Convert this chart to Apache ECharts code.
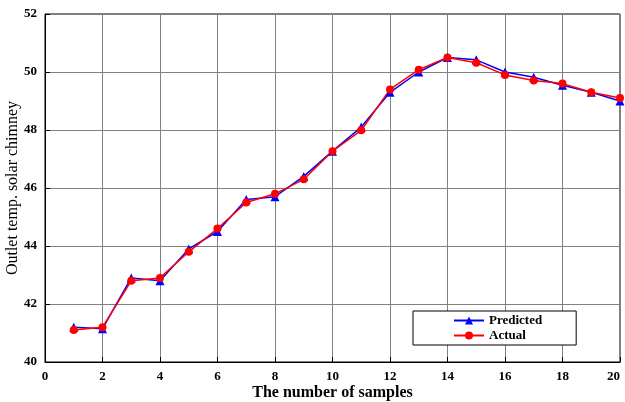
<!DOCTYPE html>
<html><head><meta charset="utf-8">
<script src="https://cdn.jsdelivr.net/npm/echarts@6/dist/echarts.min.js"></script>
<style>html,body{margin:0;padding:0;background:#fff}#c{width:625px;height:402px}</style>
</head><body><div id="c"></div>
<script>
const samples = [1,2,3,4,5,6,7,8,9,10,11,12,13,14,15,16,17,18,19,20];
const predicted = [41.2,41.15,42.9,42.8,43.9,44.5,45.6,45.7,46.4,47.27,48.1,49.3,50.0,50.5,50.42,50.0,49.82,49.54,49.3,49.0];
const actual = [41.1,41.2,42.8,42.9,43.8,44.6,45.5,45.8,46.3,47.27,47.99,49.4,50.08,50.5,50.32,49.9,49.71,49.6,49.3,49.1];
const xTicks = {min:0,max:20,interval:2};
const yTicks = {min:40,max:52,interval:2};

const font = "'Liberation Serif','Times New Roman',serif";
const chart = echarts.init(document.getElementById('c'), null, {renderer:'canvas'});
const axisCommon = {
  axisLine:{show:true,lineStyle:{color:'#000',width:1}},
  axisTick:{show:true,inside:true,length:5,lineStyle:{color:'#000'}},
  splitLine:{show:true,lineStyle:{color:'#808080',width:1}},
  axisLabel:{color:'#000',fontFamily:font,fontWeight:'bold',fontSize:13},
  nameMoveOverlap:false
};
chart.setOption({
  animation:false,
  backgroundColor:'#fff',
  grid:{left:45,right:5,top:14,bottom:40,show:true,borderColor:'#000',borderWidth:1,
        containLabel:false,outerBoundsMode:'none'},
  legend:{
    data:['Predicted','Actual'],
    orient:'vertical',left:413,top:311,
    backgroundColor:'#fff',borderColor:'#000',borderWidth:1,
    padding:[3,34,3,40],itemGap:2,itemWidth:30,itemHeight:10,
    textStyle:{color:'#000',fontFamily:font,fontWeight:'bold',fontSize:13,width:58}
  },
  xAxis:Object.assign({type:'value',min:xTicks.min,max:xTicks.max,interval:xTicks.interval,
    name:'The number of samples',nameLocation:'middle',nameGap:23,
    nameTextStyle:{color:'#000',fontFamily:font,fontWeight:'bold',fontSize:16}},axisCommon,
    {axisLabel:Object.assign({},axisCommon.axisLabel,{margin:8,alignMaxLabel:'right'})}),
  yAxis:Object.assign({type:'value',min:yTicks.min,max:yTicks.max,interval:yTicks.interval,
    name:'Outlet temp. solar chimney',nameLocation:'middle',nameGap:24,
    nameTextStyle:{color:'#000',fontFamily:font,fontWeight:'normal',fontSize:16}},axisCommon),
  series:[
    {name:'Predicted',type:'line',data:samples.map((s,i)=>[s,predicted[i]]),
     symbol:'triangle',symbolSize:9,itemStyle:{color:'#0000ff'},lineStyle:{color:'#0000ff',width:1.5}},
    {name:'Actual',type:'line',data:samples.map((s,i)=>[s,actual[i]]),
     symbol:'circle',symbolSize:8,itemStyle:{color:'#ff0000'},lineStyle:{color:'#ff0000',width:1.5}}
  ]
});
</script></body></html>
